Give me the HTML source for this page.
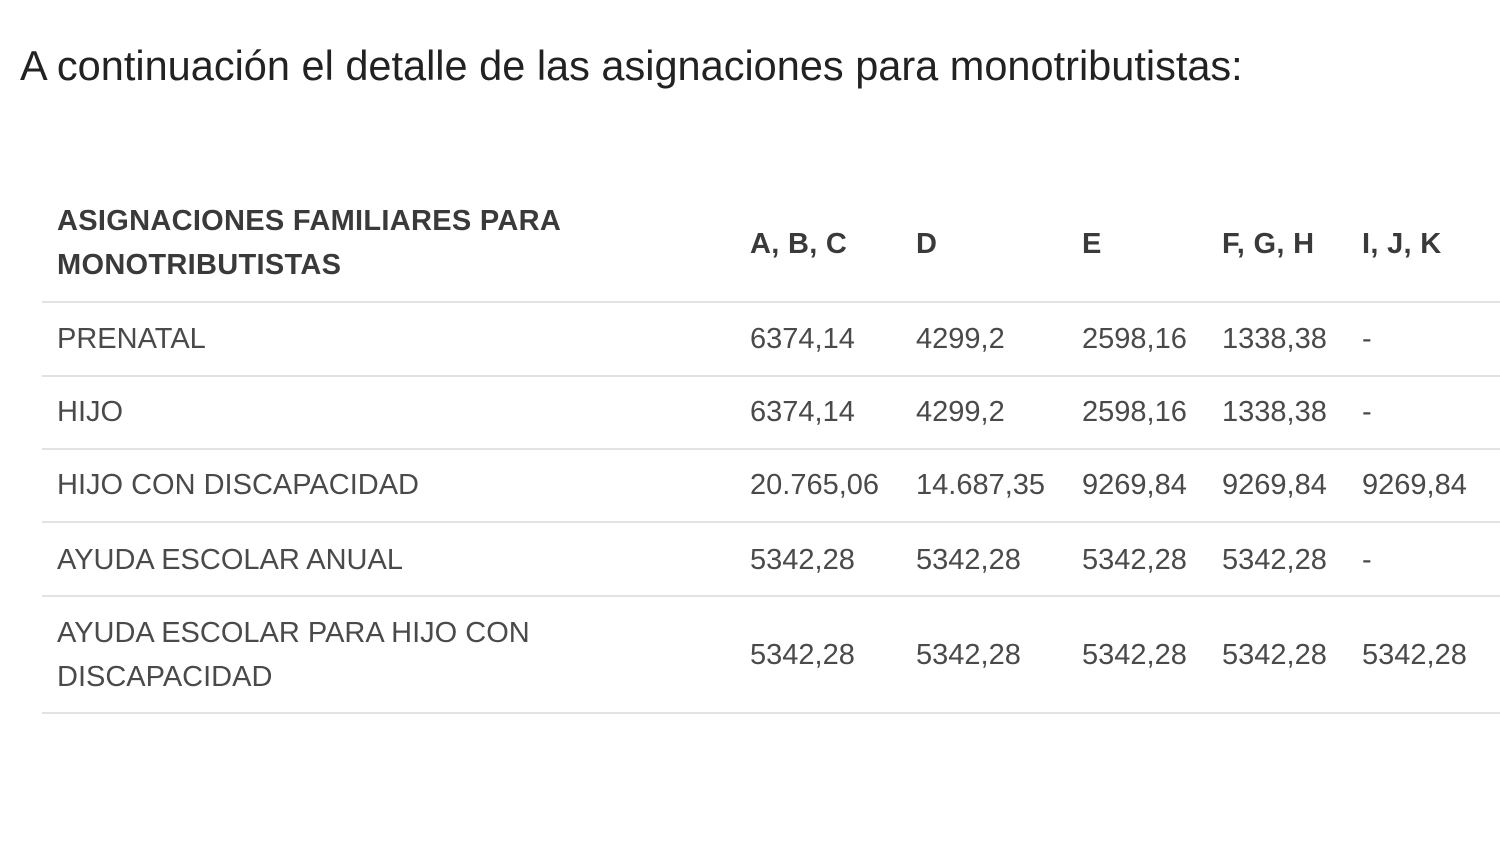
<!DOCTYPE html>
<html><head><meta charset="utf-8"><style>
body{margin:0;width:1500px;height:850px;background:#fff;position:relative;overflow:hidden;font-family:"Liberation Sans",sans-serif;}
.t{position:absolute;white-space:nowrap;}
.h{font-weight:bold;color:#3a3a3a;font-size:29px;letter-spacing:0.3px;}
.c{color:#4a4a4a;font-size:29px;}
.l{position:absolute;left:42px;width:1458px;height:2px;background:#e2e2e2;}
</style></head><body>
<div class="t" style="left:20px;top:42px;font-size:41.5px;color:#222;">A continuación el detalle de las asignaciones para monotributistas:</div>
<div class="t h" style="left:57px;top:205px;">ASIGNACIONES FAMILIARES PARA</div>
<div class="t h" style="left:57px;top:249px;">MONOTRIBUTISTAS</div>
<div class="t h" style="left:750px;top:228px;">A, B, C</div>
<div class="t h" style="left:916px;top:228px;">D</div>
<div class="t h" style="left:1082px;top:228px;">E</div>
<div class="t h" style="left:1222px;top:228px;">F, G, H</div>
<div class="t h" style="left:1362px;top:228px;">I, J, K</div>
<div class="l" style="top:301px"></div>
<div class="t c" style="left:57px;top:323px;">PRENATAL</div>
<div class="t c" style="left:750px;top:323px;">6374,14</div><div class="t c" style="left:916px;top:323px;">4299,2</div><div class="t c" style="left:1082px;top:323px;">2598,16</div><div class="t c" style="left:1222px;top:323px;">1338,38</div><div class="t c" style="left:1362px;top:323px;">-</div>
<div class="l" style="top:375px"></div>
<div class="t c" style="left:57px;top:396px;">HIJO</div>
<div class="t c" style="left:750px;top:396px;">6374,14</div><div class="t c" style="left:916px;top:396px;">4299,2</div><div class="t c" style="left:1082px;top:396px;">2598,16</div><div class="t c" style="left:1222px;top:396px;">1338,38</div><div class="t c" style="left:1362px;top:396px;">-</div>
<div class="l" style="top:448px"></div>
<div class="t c" style="left:57px;top:469px;">HIJO CON DISCAPACIDAD</div>
<div class="t c" style="left:750px;top:469px;">20.765,06</div><div class="t c" style="left:916px;top:469px;">14.687,35</div><div class="t c" style="left:1082px;top:469px;">9269,84</div><div class="t c" style="left:1222px;top:469px;">9269,84</div><div class="t c" style="left:1362px;top:469px;">9269,84</div>
<div class="l" style="top:521px"></div>
<div class="t c" style="left:57px;top:544px;">AYUDA ESCOLAR ANUAL</div>
<div class="t c" style="left:750px;top:544px;">5342,28</div><div class="t c" style="left:916px;top:544px;">5342,28</div><div class="t c" style="left:1082px;top:544px;">5342,28</div><div class="t c" style="left:1222px;top:544px;">5342,28</div><div class="t c" style="left:1362px;top:544px;">-</div>
<div class="l" style="top:595px"></div>
<div class="t c" style="left:57px;top:617px;">AYUDA ESCOLAR PARA HIJO CON</div>
<div class="t c" style="left:57px;top:661px;">DISCAPACIDAD</div>
<div class="t c" style="left:750px;top:639px;">5342,28</div><div class="t c" style="left:916px;top:639px;">5342,28</div><div class="t c" style="left:1082px;top:639px;">5342,28</div><div class="t c" style="left:1222px;top:639px;">5342,28</div><div class="t c" style="left:1362px;top:639px;">5342,28</div>
<div class="l" style="top:712px"></div>
</body></html>
